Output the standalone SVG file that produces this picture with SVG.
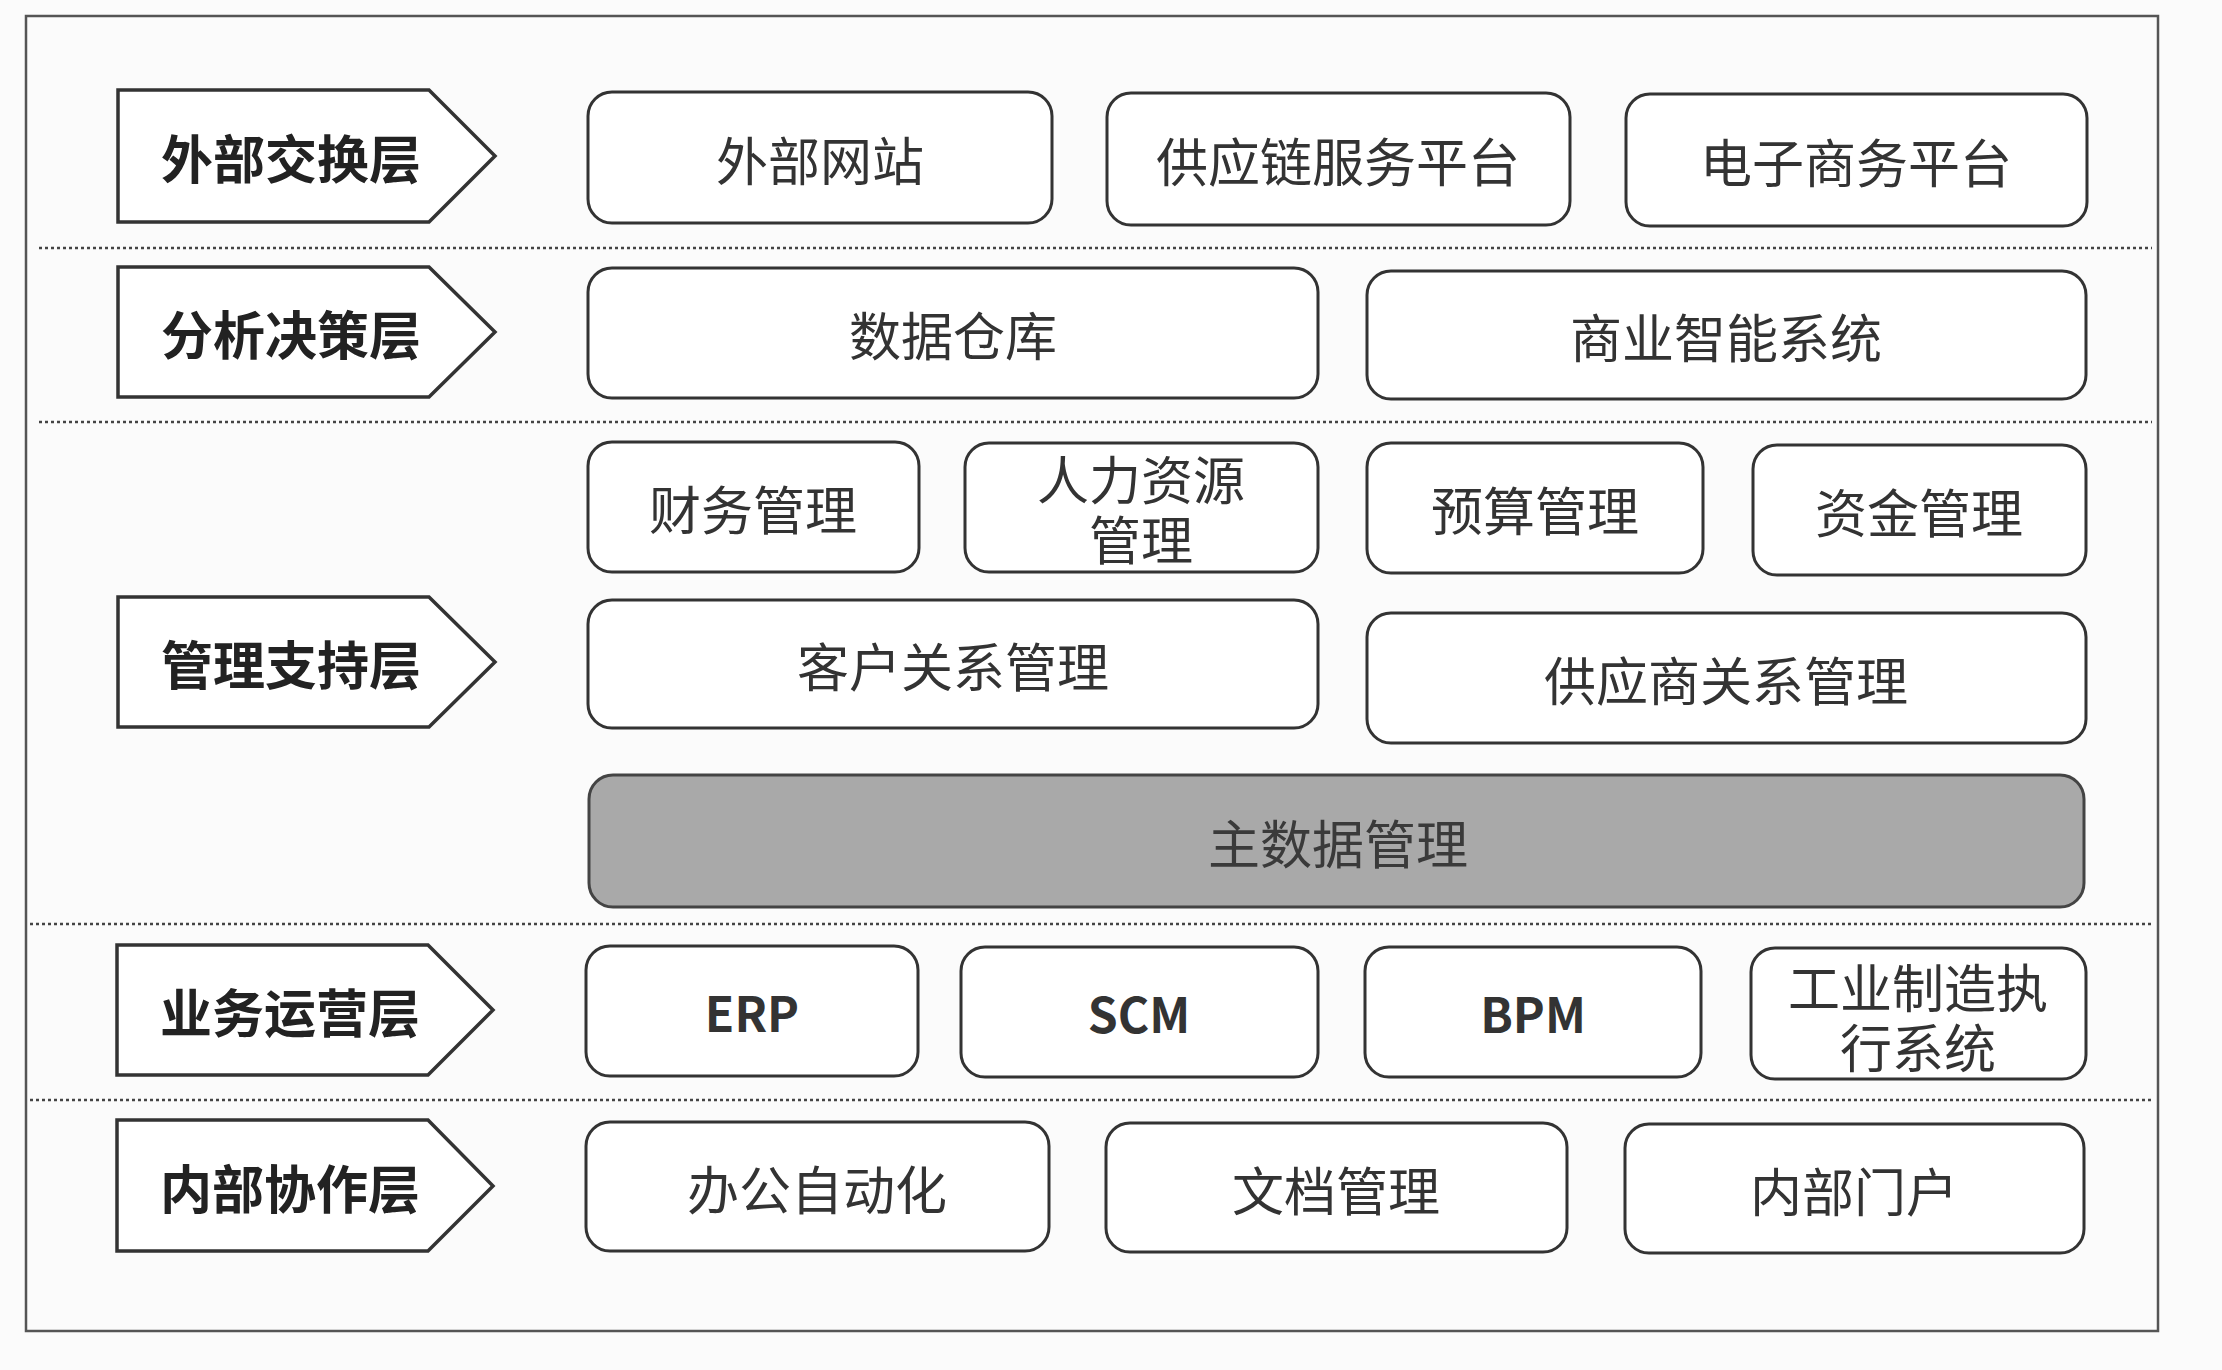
<svg xmlns="http://www.w3.org/2000/svg" width="2222" height="1370" viewBox="0 0 2222 1370">
<style>
.bg{fill:#fbfbfb}
.frame{fill:none;stroke:#555;stroke-width:2.5}
.sep{stroke:#444;stroke-width:2.5;stroke-dasharray:3 3;fill:none}
.layer{fill:#fff;stroke:#333;stroke-width:3.5;stroke-linejoin:miter}
.box{fill:#fff;stroke:#333;stroke-width:3}
.gray{fill:#a9a9a9;stroke:#444;stroke-width:3}
.lt{font-family:"Noto Sans CJK SC","Noto Sans",sans-serif;font-size:52px;font-weight:bold;fill:#222;text-anchor:middle;dominant-baseline:central}
.t{font-family:"Noto Sans CJK SC","Noto Sans",sans-serif;font-size:52px;fill:#333;text-anchor:middle;dominant-baseline:central}
.e{font-family:"Noto Sans CJK SC","Noto Sans",sans-serif;font-size:48px;font-weight:bold;fill:#333;text-anchor:middle;dominant-baseline:central}
</style>
<rect class="bg" x="0" y="0" width="2222" height="1370"/>
<rect class="frame" x="26" y="16" width="2132" height="1315"/>
<g id="separators">
<line class="sep" x1="39" y1="248" x2="2152" y2="248"/>
<line class="sep" x1="39" y1="422" x2="2152" y2="422"/>
<line class="sep" x1="30" y1="924" x2="2152" y2="924"/>
<line class="sep" x1="30" y1="1100" x2="2152" y2="1100"/>
</g>
<g id="layer-external">
<polygon class="layer" points="118,90 429,90 495,156 429,222 118,222"/>
<text class="lt" x="291" y="156">外部交换层</text>
</g>
<g id="layer-analysis">
<polygon class="layer" points="118,267 429,267 495,332 429,397 118,397"/>
<text class="lt" x="291" y="332">分析决策层</text>
</g>
<g id="layer-management">
<polygon class="layer" points="118,597 429,597 495,662 429,727 118,727"/>
<text class="lt" x="291" y="662">管理支持层</text>
</g>
<g id="layer-operation">
<polygon class="layer" points="117,945 428,945 493,1010 428,1075 117,1075"/>
<text class="lt" x="290" y="1010">业务运营层</text>
</g>
<g id="layer-internal">
<polygon class="layer" points="117,1120 428,1120 493,1186 428,1251 117,1251"/>
<text class="lt" x="290" y="1186">内部协作层</text>
</g>
<g id="n-website"><rect class="box" x="588" y="92" width="464" height="131" rx="24"/><text class="t" x="820" y="158">外部网站</text></g>
<g id="n-scm-platform"><rect class="box" x="1107" y="93" width="463" height="132" rx="24"/><text class="t" x="1338" y="159">供应链服务平台</text></g>
<g id="n-ecommerce"><rect class="box" x="1626" y="94" width="461" height="132" rx="24"/><text class="t" x="1856" y="160">电子商务平台</text></g>
<g id="n-warehouse"><rect class="box" x="588" y="268" width="730" height="130" rx="24"/><text class="t" x="953" y="333">数据仓库</text></g>
<g id="n-bi"><rect class="box" x="1367" y="271" width="719" height="128" rx="24"/><text class="t" x="1726" y="335">商业智能系统</text></g>
<g id="n-finance"><rect class="box" x="588" y="442" width="331" height="130" rx="24"/><text class="t" x="753" y="507">财务管理</text></g>
<g id="n-hr"><rect class="box" x="965" y="443" width="353" height="129" rx="24"/><text class="t" x="1141" y="477">人力资源<tspan x="1141" dy="60">管理</tspan></text></g>
<g id="n-budget"><rect class="box" x="1367" y="443" width="336" height="130" rx="24"/><text class="t" x="1535" y="508">预算管理</text></g>
<g id="n-fund"><rect class="box" x="1753" y="445" width="333" height="130" rx="24"/><text class="t" x="1919" y="510">资金管理</text></g>
<g id="n-crm"><rect class="box" x="588" y="600" width="730" height="128" rx="24"/><text class="t" x="953" y="664">客户关系管理</text></g>
<g id="n-srm"><rect class="box" x="1367" y="613" width="719" height="130" rx="24"/><text class="t" x="1726" y="678">供应商关系管理</text></g>
<g id="n-mdm"><rect class="gray" x="589" y="775" width="1495" height="132" rx="24"/><text class="t" x="1338" y="841" style="fill:#3a3a3a">主数据管理</text></g>
<g id="n-erp"><rect class="box" x="586" y="946" width="332" height="130" rx="24"/><text class="e" x="752" y="1011">ERP</text></g>
<g id="n-scm"><rect class="box" x="961" y="947" width="357" height="130" rx="24"/><text class="e" x="1139" y="1012">SCM</text></g>
<g id="n-bpm"><rect class="box" x="1365" y="947" width="336" height="130" rx="24"/><text class="e" x="1533" y="1012">BPM</text></g>
<g id="n-mes"><rect class="box" x="1751" y="948" width="335" height="131" rx="24"/><text class="t" x="1918" y="985">工业制造执<tspan x="1918" dy="60">行系统</tspan></text></g>
<g id="n-oa"><rect class="box" x="586" y="1122" width="463" height="129" rx="24"/><text class="t" x="817" y="1187">办公自动化</text></g>
<g id="n-doc"><rect class="box" x="1106" y="1123" width="461" height="129" rx="24"/><text class="t" x="1336" y="1188">文档管理</text></g>
<g id="n-portal"><rect class="box" x="1625" y="1124" width="459" height="129" rx="24"/><text class="t" x="1854" y="1189">内部门户</text></g>
</svg>
